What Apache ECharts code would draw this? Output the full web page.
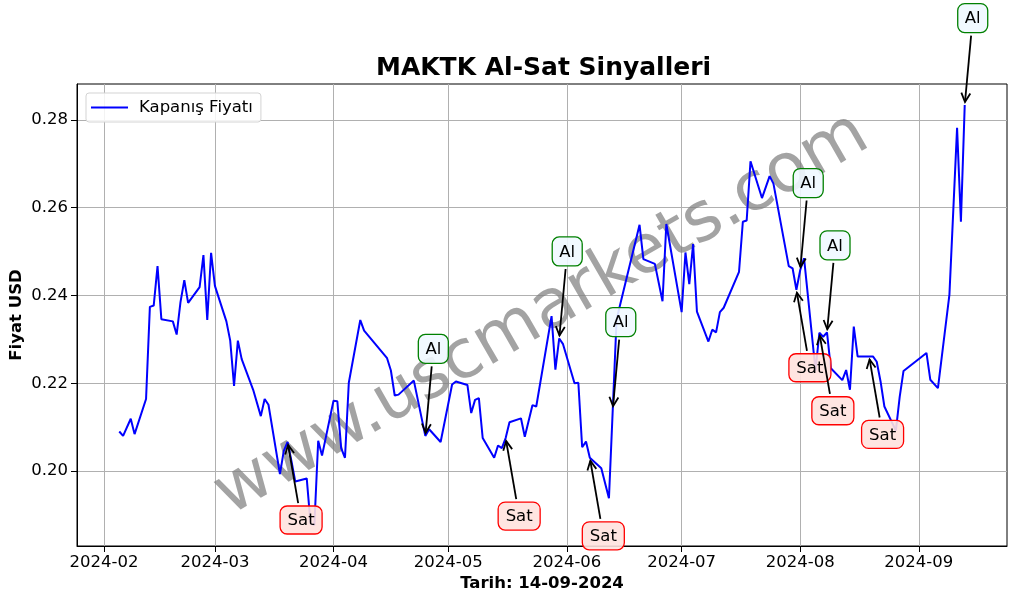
<!DOCTYPE html>
<html>
<head>
<meta charset="utf-8">
<script src="https://cdn.jsdelivr.net/npm/echarts@6.0.0/dist/echarts.min.js"></script>
<style>
html,body{margin:0;padding:0;background:#fff;}
#chart{width:1017px;height:601px;}
</style>
</head>
<body>
<div id="chart"></div>
<script>
var dates = [
'2024-02-05','2024-02-06','2024-02-08','2024-02-09','2024-02-12','2024-02-13','2024-02-14','2024-02-15','2024-02-16',
'2024-02-19','2024-02-20','2024-02-21','2024-02-22','2024-02-23','2024-02-26','2024-02-27','2024-02-28','2024-02-29','2024-03-01',
'2024-03-04','2024-03-05','2024-03-06','2024-03-07','2024-03-08','2024-03-11','2024-03-13','2024-03-14','2024-03-15',
'2024-03-18','2024-03-19','2024-03-20','2024-03-21','2024-03-22','2024-03-25','2024-03-26','2024-03-27','2024-03-28','2024-03-29',
'2024-04-01','2024-04-02','2024-04-03','2024-04-04','2024-04-05','2024-04-08','2024-04-09','2024-04-15','2024-04-16','2024-04-17','2024-04-18',
'2024-04-22','2024-04-25','2024-04-26','2024-04-29',
'2024-05-02','2024-05-03','2024-05-06','2024-05-07','2024-05-08','2024-05-09','2024-05-10','2024-05-13','2024-05-14','2024-05-15','2024-05-16','2024-05-17',
'2024-05-20','2024-05-21','2024-05-23','2024-05-24','2024-05-28','2024-05-29','2024-05-30','2024-05-31',
'2024-06-03','2024-06-04','2024-06-05','2024-06-06','2024-06-07','2024-06-10','2024-06-12','2024-06-13','2024-06-14',
'2024-06-20','2024-06-21','2024-06-24','2024-06-26','2024-06-27',
'2024-07-01','2024-07-02','2024-07-03','2024-07-04','2024-07-05','2024-07-08','2024-07-09','2024-07-10','2024-07-11','2024-07-12',
'2024-07-16','2024-07-17','2024-07-18','2024-07-19','2024-07-22','2024-07-24','2024-07-25','2024-07-29','2024-07-30','2024-07-31',
'2024-08-01','2024-08-02','2024-08-05','2024-08-06','2024-08-07','2024-08-08','2024-08-09','2024-08-12','2024-08-13','2024-08-14','2024-08-15','2024-08-16',
'2024-08-19','2024-08-20','2024-08-21','2024-08-22','2024-08-23','2024-08-26','2024-08-27','2024-08-28',
'2024-09-03','2024-09-04','2024-09-06','2024-09-09','2024-09-11','2024-09-12','2024-09-13'
];
var closes = [
0.2090,0.2080,0.2119,0.2084,0.2164,0.2374,0.2377,0.2467,0.2346,
0.2341,0.2311,0.2385,0.2435,0.2383,0.2419,0.2492,0.2344,0.2497,0.2422,
0.2341,0.2297,0.2194,0.2297,0.2255,0.2185,0.2125,0.2164,0.2151,
0.1993,0.2046,0.2066,0.2023,0.1976,0.1983,0.1880,0.1877,0.2069,0.2035,
0.2160,0.2159,0.2052,0.2030,0.2201,0.2344,0.2320,0.2257,0.2229,0.2172,0.2174,
0.2206,0.2080,0.2095,0.2066,
0.2197,0.2204,0.2196,0.2132,0.2162,0.2166,0.2075,0.2030,0.2058,0.2052,0.2075,0.2111,
0.2120,0.2078,0.2150,0.2147,0.2353,0.2231,0.2302,0.2289,
0.2200,0.2201,0.2054,0.2067,0.2030,0.2006,0.1938,0.2141,0.2346,
0.2561,0.2483,0.2472,0.2387,0.2563,
0.2362,0.2498,0.2426,0.2517,0.2363,0.2295,0.2322,0.2316,0.2362,0.2372,
0.2454,0.2568,0.2571,0.2706,0.2622,0.2672,0.2655,0.2467,0.2462,0.2413,
0.2458,0.2485,0.2229,0.2315,0.2306,0.2316,0.2234,0.2207,0.2230,0.2185,0.2329,0.2261,
0.2261,0.2261,0.2249,0.2204,0.2147,0.2092,0.2169,0.2228,
0.2269,0.2208,0.2189,0.2402,0.2782,0.2568,0.2834
];
var sigDates = ['2024-03-20','2024-04-25','2024-05-16','2024-05-30','2024-06-07','2024-06-13','2024-07-31','2024-08-01','2024-08-06','2024-08-08','2024-08-19','2024-09-13'];
var sigTypes = ['Sat','Al','Sat','Al','Sat','Al','Sat','Al','Sat','Al','Sat','Al'];
var yTicks = [0.20, 0.22, 0.24, 0.26, 0.28];
var xTicks = ['2024-02-01','2024-03-01','2024-04-01','2024-05-01','2024-06-01','2024-07-01','2024-08-01','2024-09-01'];
var xMin = '2024-01-24T22:48:00';
var xMax = '2024-09-24T01:12:00';
var yMin = 0.1829, yMax = 0.2882;
var seriesName = 'Kapanış Fiyatı';
var titleText = 'MAKTK Al-Sat Sinyalleri';
var xName = 'Tarih: 14-09-2024';
var yName = 'Fiyat USD';
var watermark = 'www.uscmarkets.com';

var FONT = 'DejaVu Sans';
function ts(s){
  var p = s.split(/[-T:]/).map(Number);
  return Date.UTC(p[0], p[1]-1, p[2], p[3]||0, p[4]||0, 0);
}

var lineData = dates.map(function(d,i){ return [ts(d), closes[i]]; });
var sigData = sigDates.map(function(d){ return [ts(d), closes[dates.indexOf(d)]]; });

var chart = echarts.init(document.getElementById('chart'), null, {renderer:'canvas'});

function renderSignal(params, api){
  var p = api.coord([api.value(0), api.value(1)]);
  var type = sigTypes[params.dataIndex];
  var isBuy = type === 'Al';
  var off = isBuy ? [8, -87] : [13.5, 78];
  var cx = p[0] + off[0], cy = p[1] + off[1];
  var w = isBuy ? 30 : 42, h = isBuy ? 29 : 28;
  var dx = p[0] - cx, dy = p[1] - cy;
  var len = Math.sqrt(dx*dx + dy*dy);
  var ux = dx/len, uy = dy/len;
  var sEdge = (h/2) / Math.abs(uy);
  var sx = cx + ux*(sEdge + 3), sy = cy + uy*(sEdge + 3);
  var ex = p[0] - ux*3, ey = p[1] - uy*3;
  var hl = 9, hw = 4.5;
  var bx = ex - ux*hl, by = ey - uy*hl;
  var px = -uy, py = ux;
  return {
    type: 'group',
    children: [
      {type:'line', shape:{x1:sx,y1:sy,x2:ex,y2:ey}, style:{stroke:'#000', lineWidth:1.8}},
      {type:'polyline', shape:{points:[[bx+px*hw,by+py*hw],[ex,ey],[bx-px*hw,by-py*hw]]}, style:{stroke:'#000', fill:null, lineWidth:1.8}},
      {type:'rect', shape:{x:cx-w/2, y:cy-h/2, width:w, height:h, r:7},
        style:{fill: isBuy ? 'rgba(240,248,255,0.9)' : 'rgba(255,226,222,0.9)', stroke: isBuy ? '#008000' : '#ff0000', lineWidth:1.3}},
      {type:'text', style:{x:cx, y:cy+1, text:type, align:'center', verticalAlign:'middle', fontSize:16.5, fontFamily:FONT, fill:'#000'}}
    ]
  };
}

var option = {
  backgroundColor: '#ffffff',
  animation: false,
  title: {
    text: titleText, left: 376, top: 56, padding: 0,
    textStyle: {fontSize: 25, fontWeight: 'bold', fontFamily: FONT, color: '#000'}
  },
  legend: {
    left: 86, top: 93, orient: 'vertical',
    data: [{name: seriesName, icon: 'rect'}],
    itemWidth: 37, itemHeight: 2,
    padding: [6, 8, 6, 5],
    backgroundColor: 'rgba(255,255,255,0.85)',
    borderColor: '#d3d3d3', borderWidth: 1, borderRadius: 3,
    textStyle: {fontSize: 16.5, fontFamily: FONT, color: '#000', padding: [0,0,0,6]}
  },
  grid: {left: 77, top: 84, right: 10, bottom: 55, show: true, borderColor: '#000', borderWidth: 1,
    backgroundColor: 'transparent', containLabel: false, outerBoundsMode: 'none'},
  xAxis: {
    type: 'value',
    min: ts(xMin), max: ts(xMax),
    name: xName, nameLocation: 'middle', nameGap: 29, nameMoveOverlap: false,
    nameTextStyle: {fontSize: 16.5, fontWeight: 'bold', fontFamily: FONT, color: '#000'},
    axisLine: {show: true, onZero: false, lineStyle: {color: '#000', width: 1}},
    axisTick: {show: true, inside: false, length: 6, lineStyle: {color: '#000', width: 1}, customValues: xTicks.map(ts)},
    axisLabel: {
      show: true, margin: 8, fontSize: 16.5, fontFamily: FONT, color: '#000',
      customValues: xTicks.map(ts),
      formatter: function(v){ var d = new Date(v); var m = d.getUTCMonth()+1; return d.getUTCFullYear() + '-' + (m<10?'0':'') + m; }
    },
    splitLine: {show: true, lineStyle: {color: '#b0b0b0', width: 1}}
  },
  yAxis: {
    type: 'value',
    min: yMin, max: yMax,
    name: yName, nameLocation: 'middle', nameGap: 52, nameRotate: 90, nameMoveOverlap: false,
    nameTextStyle: {fontSize: 16.5, fontWeight: 'bold', fontFamily: FONT, color: '#000'},
    axisLine: {show: true, onZero: false, lineStyle: {color: '#000', width: 1}},
    axisTick: {show: true, inside: false, length: 6, lineStyle: {color: '#000', width: 1}, customValues: yTicks},
    axisLabel: {
      show: true, margin: 9, fontSize: 16.5, fontFamily: FONT, color: '#000',
      customValues: yTicks,
      formatter: function(v){ return v.toFixed(2); }
    },
    splitLine: {show: true, lineStyle: {color: '#b0b0b0', width: 1}}
  },
  graphic: [{
    type: 'text', z: 1, x: 542, y: 315, rotation: Math.PI/6,
    style: {text: watermark, fontSize: 68, fontFamily: FONT, fill: 'rgba(128,128,128,0.72)', align: 'center', verticalAlign: 'middle'}
  }],
  series: [
    {
      name: seriesName, type: 'line', data: lineData, showSymbol: false, symbol: 'none',
      lineStyle: {color: '#0000ff', width: 2}, itemStyle: {color: '#0000ff'}, z: 3
    },
    {
      name: 'signals', type: 'custom', data: sigData, renderItem: renderSignal, clip: false, z: 5,
      silent: true
    }
  ]
};
chart.setOption(option);
</script>
</body>
</html>
